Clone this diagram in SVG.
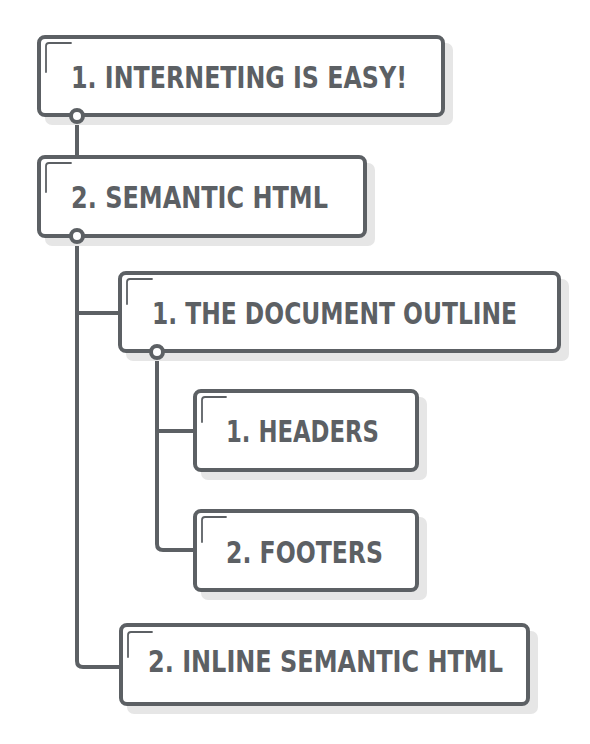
<svg xmlns="http://www.w3.org/2000/svg" width="590" height="744" viewBox="0 0 590 744">
<defs>
<style>
.shadow{fill:#e6e6e6;stroke:none}
.box{fill:#ffffff;stroke:#5c6064;stroke-width:4}
.mark{fill:none;stroke:#5c6064;stroke-width:1.8;stroke-linecap:round}
.lbl{font-family:"DejaVu Sans Condensed","DejaVu Sans",sans-serif;font-weight:bold;font-size:31px;fill:#5c6064}
.conn{fill:none;stroke:#5c6064;stroke-width:4;stroke-linejoin:round}
.dot{fill:#ffffff;stroke:#5c6064;stroke-width:4}
</style>
</defs>
<rect width="590" height="744" fill="#ffffff"/>
<g id="connectors">
<path class="conn" d="M77 116 V157"/>
<path class="conn" d="M77 236 V661 Q77 667 83 667 H121"/>
<path class="conn" d="M77 313 H120"/>
<path class="conn" d="M157 352 V544 Q157 550 163 550 H195"/>
<path class="conn" d="M157 431 H195"/>
</g>
<g id="node1">
<rect class="shadow" x="45" y="43" width="408" height="82" rx="7"/>
<rect class="box" x="39" y="37" width="404" height="78" rx="6"/>
<path class="mark" d="M46 72 V46 Q46 43 49 43 H71"/>
<text class="lbl" x="71" y="88" textLength="336" lengthAdjust="spacingAndGlyphs">1. INTERNETING IS EASY!</text>
</g>
<g id="node2">
<rect class="shadow" x="45" y="163" width="330" height="83" rx="7"/>
<rect class="box" x="39" y="157" width="326" height="79" rx="6"/>
<path class="mark" d="M46 192 V166 Q46 163 49 163 H71"/>
<text class="lbl" x="71" y="208" textLength="257" lengthAdjust="spacingAndGlyphs">2. SEMANTIC HTML</text>
</g>
<g id="node3">
<rect class="shadow" x="126" y="279" width="443" height="82" rx="7"/>
<rect class="box" x="120" y="273" width="439" height="78" rx="6"/>
<path class="mark" d="M127 304 V282 Q127 279 130 279 H152"/>
<text class="lbl" x="152" y="324" textLength="365" lengthAdjust="spacingAndGlyphs">1. THE DOCUMENT OUTLINE</text>
</g>
<g id="node4">
<rect class="shadow" x="201" y="397" width="226" height="83" rx="7"/>
<rect class="box" x="195" y="391" width="222" height="79" rx="6"/>
<path class="mark" d="M202 422 V400 Q202 397 205 397 H226"/>
<text class="lbl" x="226" y="442" textLength="153" lengthAdjust="spacingAndGlyphs">1. HEADERS</text>
</g>
<g id="node5">
<rect class="shadow" x="201" y="517" width="226" height="83" rx="7"/>
<rect class="box" x="195" y="511" width="222" height="79" rx="6"/>
<path class="mark" d="M202 542 V520 Q202 517 205 517 H226"/>
<text class="lbl" x="226" y="563" textLength="157" lengthAdjust="spacingAndGlyphs">2. FOOTERS</text>
</g>
<g id="node6">
<rect class="shadow" x="127" y="631" width="411" height="83" rx="7"/>
<rect class="box" x="121" y="625" width="407" height="79" rx="6"/>
<path class="mark" d="M128 657 V635 Q128 632 131 632 H152"/>
<text class="lbl" x="148" y="672" textLength="355" lengthAdjust="spacingAndGlyphs">2. INLINE SEMANTIC HTML</text>
</g>
<g id="dots">
<circle class="dot" cx="77" cy="116" r="6"/>
<circle class="dot" cx="77" cy="236" r="6"/>
<circle class="dot" cx="157" cy="352" r="6"/>
</g>
</svg>
